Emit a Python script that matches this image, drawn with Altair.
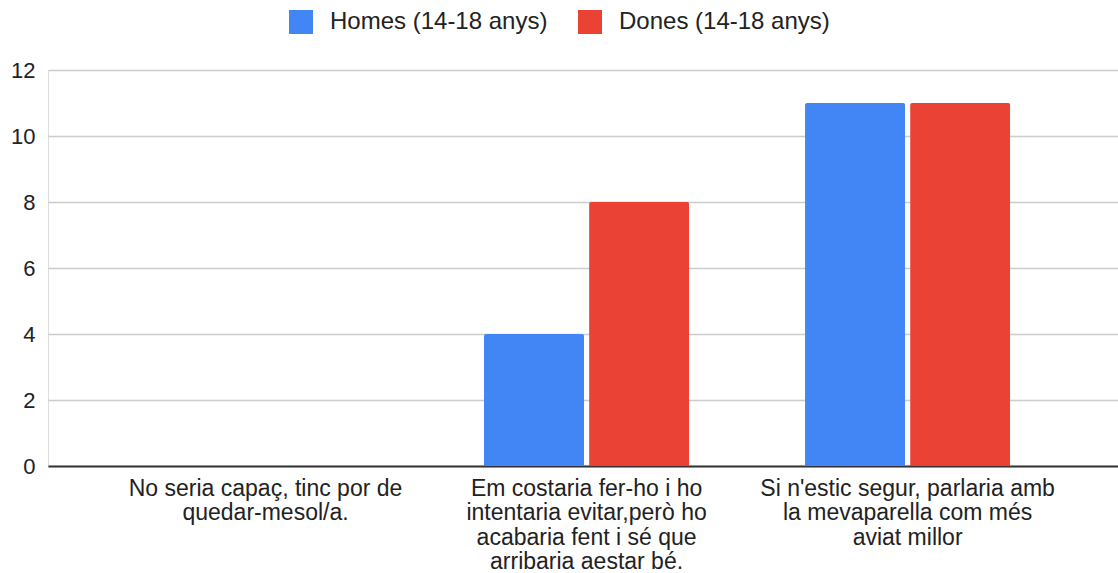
import altair as alt
import pandas as pd

categories = [
    "No seria capaç, tinc por de|quedar-mesol/a.",
    "Em costaria fer-ho i ho|intentaria evitar,però ho|acabaria fent i sé que|arribaria aestar bé.",
    "Si n'estic segur, parlaria amb|la mevaparella com més|aviat millor",
]
series = ["Homes (14-18 anys)", "Dones (14-18 anys)"]
homes = [0, 4, 11]
dones = [0, 8, 11]
colors = ["#4285F4", "#EA4335"]

rows = []
for c, h, d in zip(categories, homes, dones):
    rows.append({"cat": c, "serie": series[0], "val": h})
    rows.append({"cat": c, "serie": series[1], "val": d})
df = pd.DataFrame(rows)

FONT = "Liberation Sans"

chart = alt.Chart(df).mark_bar(cornerRadiusTopLeft=2, cornerRadiusTopRight=2).encode(
    x=alt.X("cat:N", sort=categories, title=None,
            scale=alt.Scale(paddingInner=0.361, paddingOuter=0.347, align=0.516),
            axis=alt.Axis(labelAngle=0, labelExpr="split(datum.label, '|')",
                          labelFontSize=23, labelFont=FONT, labelColor="#222",
                          labelLineHeight=24.5, labelPadding=11, ticks=False,
                          domainColor="#333", domainWidth=2, labelLimit=400)),
    xOffset=alt.XOffset("serie:N", sort=series,
                        scale=alt.Scale(paddingInner=0.048, paddingOuter=0)),
    y=alt.Y("val:Q", title=None,
            scale=alt.Scale(domain=[0, 12], nice=False),
            axis=alt.Axis(values=[0, 2, 4, 6, 8, 10, 12], labelFontSize=22, labelFont=FONT,
                          labelColor="#222", labelPadding=13, ticks=False, domain=False,
                          gridColor="#cccccc", gridWidth=1.5)),
    color=alt.Color("serie:N", sort=series, title=None,
                    scale=alt.Scale(domain=series, range=colors),
                    legend=alt.Legend(orient="none", legendX=241, legendY=-60,
                                      direction="horizontal", symbolType="square",
                                      symbolSize=576, symbolStrokeWidth=0, symbolOpacity=1,
                                      labelFontSize=24, labelFont=FONT, labelColor="#222",
                                      labelLimit=0, labelOffset=17, columnPadding=30,
                                      padding=0)),
).properties(
    width=1070, height=396,
    autosize=alt.AutoSizeParams(type="none"),
    padding={"left": 48, "top": 70, "right": 0, "bottom": 107},
).configure_view(stroke=None).configure(background="white")

chart.save("out.html", embed_options={"renderer": "svg", "actions": False})
